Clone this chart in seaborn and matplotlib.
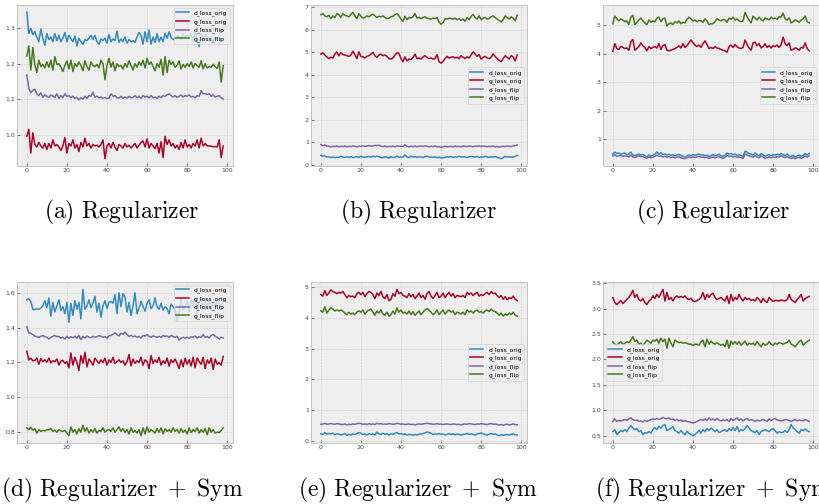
import numpy as np
import pandas as pd
import matplotlib
matplotlib.use("Agg")
import matplotlib.pyplot as plt
import seaborn as sns

# series names and colours (bmh cycle)
names = ["d_loss_orig", "g_loss_orig", "d_loss_flip", "g_loss_flip"]
colors = ["#348ABD", "#A60628", "#7A68A6", "#467821"]

# ---- (a) Regularizer ----
a_d_orig = [1.345, 1.285, 1.300, 1.282, 1.290, 1.275, 1.262, 1.298, 1.272, 1.252,
            1.285, 1.268, 1.275, 1.262, 1.285, 1.265, 1.280, 1.262, 1.272, 1.288,
            1.262, 1.280, 1.270, 1.262, 1.278, 1.250, 1.272, 1.262, 1.255, 1.268,
            1.265, 1.272, 1.280, 1.268, 1.280, 1.262, 1.255, 1.270, 1.265, 1.272,
            1.258, 1.282, 1.262, 1.270, 1.265, 1.292, 1.260, 1.270, 1.262, 1.275,
            1.258, 1.268, 1.262, 1.265, 1.260, 1.275, 1.288, 1.280, 1.255, 1.290,
            1.262, 1.295, 1.255, 1.275, 1.260, 1.285, 1.262, 1.275, 1.262, 1.285,
            1.272, 1.290, 1.275, 1.268, 1.272, 1.280, 1.275, 1.268, 1.285, 1.272,
            1.280, 1.275, 1.285, 1.262, 1.290, 1.268, 1.248, 1.285, 1.272, 1.282,
            1.275, 1.270, 1.268, 1.262, 1.275, 1.268, 1.272, 1.265, 1.268]
a_g_orig = [0.995, 1.015, 0.948, 1.005, 0.972, 0.965, 0.978, 0.968, 0.962, 0.975,
            0.958, 0.975, 0.962, 0.985, 0.968, 0.972, 0.965, 0.955, 0.968, 0.992,
            0.948, 0.975, 0.968, 0.985, 0.962, 0.972, 0.952, 0.978, 0.965, 0.990,
            0.968, 0.975, 0.962, 0.972, 0.968, 0.970, 0.965, 0.972, 0.985, 0.932,
            0.968, 0.975, 0.962, 0.978, 0.965, 0.955, 0.972, 0.968, 0.962, 0.975,
            0.965, 0.970, 0.962, 0.968, 0.975, 0.962, 0.970, 0.978, 0.982, 0.965,
            0.988, 0.962, 0.975, 0.968, 0.960, 0.975, 0.948, 0.980, 0.935, 0.995,
            0.972, 0.985, 0.968, 0.975, 0.962, 0.970, 0.958, 0.978, 0.962, 0.985,
            0.965, 0.972, 0.962, 0.975, 0.968, 0.985, 0.962, 0.990, 0.968, 0.975,
            0.968, 0.968, 0.967, 0.966, 0.966, 0.965, 0.985, 0.935, 0.968]
a_d_flip = [1.168, 1.130, 1.118, 1.125, 1.128, 1.115, 1.110, 1.118, 1.105, 1.112,
            1.108, 1.105, 1.112, 1.108, 1.105, 1.115, 1.102, 1.110, 1.105, 1.115,
            1.108, 1.110, 1.105, 1.108, 1.102, 1.105, 1.098, 1.104, 1.100, 1.108,
            1.102, 1.110, 1.108, 1.120, 1.105, 1.108, 1.104, 1.106, 1.103, 1.104,
            1.102, 1.103, 1.115, 1.108, 1.110, 1.104, 1.103, 1.108, 1.102, 1.106,
            1.103, 1.108, 1.104, 1.105, 1.110, 1.104, 1.108, 1.102, 1.110, 1.106,
            1.108, 1.104, 1.110, 1.104, 1.106, 1.102, 1.108, 1.104, 1.110, 1.108,
            1.112, 1.115, 1.110, 1.106, 1.110, 1.105, 1.108, 1.112, 1.106, 1.110,
            1.108, 1.112, 1.106, 1.108, 1.104, 1.110, 1.108, 1.124, 1.115, 1.116,
            1.113, 1.116, 1.108, 1.112, 1.106, 1.108, 1.110, 1.104, 1.100]
a_g_flip = [1.222, 1.250, 1.182, 1.246, 1.198, 1.175, 1.210, 1.192, 1.198, 1.188,
            1.205, 1.190, 1.210, 1.182, 1.220, 1.198, 1.200, 1.190, 1.178, 1.195,
            1.208, 1.185, 1.210, 1.178, 1.200, 1.192, 1.205, 1.195, 1.180, 1.208,
            1.192, 1.182, 1.205, 1.195, 1.192, 1.198, 1.188, 1.210, 1.200, 1.155,
            1.195, 1.215, 1.190, 1.205, 1.180, 1.200, 1.192, 1.195, 1.185, 1.200,
            1.190, 1.208, 1.195, 1.182, 1.200, 1.190, 1.205, 1.195, 1.210, 1.188,
            1.215, 1.198, 1.205, 1.192, 1.180, 1.200, 1.190, 1.212, 1.168, 1.220,
            1.175, 1.210, 1.198, 1.205, 1.190, 1.195, 1.208, 1.185, 1.198, 1.190,
            1.200, 1.192, 1.205, 1.188, 1.200, 1.195, 1.190, 1.208, 1.185, 1.200,
            1.188, 1.192, 1.190, 1.198, 1.192, 1.186, 1.205, 1.148, 1.195]

# ---- (b) Regularizer ----
b_d_orig = [0.42, 0.38, 0.40, 0.34, 0.35, 0.33, 0.34, 0.32, 0.34, 0.33,
            0.38, 0.34, 0.33, 0.35, 0.33, 0.36, 0.32, 0.34, 0.36, 0.33,
            0.38, 0.34, 0.33, 0.35, 0.37, 0.34, 0.38, 0.35, 0.38, 0.36,
            0.33, 0.31, 0.36, 0.33, 0.30, 0.36, 0.32, 0.34, 0.38, 0.33,
            0.35, 0.34, 0.44, 0.35, 0.32, 0.38, 0.34, 0.36, 0.33, 0.35,
            0.34, 0.33, 0.36, 0.38, 0.35, 0.34, 0.33, 0.35, 0.32, 0.34,
            0.30, 0.31, 0.33, 0.35, 0.34, 0.36, 0.33, 0.35, 0.34, 0.38,
            0.34, 0.36, 0.34, 0.33, 0.35, 0.37, 0.35, 0.34, 0.36, 0.33,
            0.35, 0.34, 0.37, 0.35, 0.33, 0.35, 0.34, 0.36, 0.33, 0.30,
            0.27, 0.31, 0.38, 0.34, 0.36, 0.33, 0.35, 0.37, 0.42]
b_g_orig = [4.92, 4.98, 4.88, 4.80, 4.72, 4.78, 4.75, 4.92, 5.02, 4.85,
            4.98, 4.90, 4.88, 4.85, 4.82, 4.88, 5.05, 4.90, 4.72, 5.02,
            4.82, 4.80, 4.75, 4.82, 4.85, 4.92, 5.00, 4.85, 4.78, 4.88,
            4.92, 4.85, 4.88, 4.82, 4.72, 4.70, 4.75, 4.88, 4.98, 4.95,
            4.72, 4.58, 4.80, 4.62, 4.70, 4.68, 4.78, 4.92, 4.72, 4.75,
            4.70, 4.80, 4.85, 4.78, 4.72, 4.75, 4.70, 4.72, 4.90, 4.58,
            4.52, 4.60, 4.72, 4.82, 4.75, 4.78, 4.80, 4.75, 4.78, 4.72,
            4.85, 4.78, 4.72, 4.80, 4.75, 4.88, 5.02, 4.92, 4.82, 4.90,
            4.70, 4.78, 4.82, 4.75, 4.72, 4.78, 4.92, 4.82, 4.72, 4.65,
            4.58, 4.72, 4.85, 4.78, 4.70, 4.85, 4.80, 4.62, 4.88]
b_d_flip = [0.90, 0.85, 0.88, 0.83, 0.82, 0.80, 0.82, 0.81, 0.83, 0.80,
            0.82, 0.81, 0.83, 0.80, 0.82, 0.81, 0.83, 0.82, 0.80, 0.83,
            0.82, 0.84, 0.82, 0.83, 0.85, 0.83, 0.84, 0.86, 0.85, 0.87,
            0.82, 0.81, 0.83, 0.80, 0.82, 0.81, 0.83, 0.80, 0.84, 0.82,
            0.83, 0.81, 0.89, 0.82, 0.80, 0.82, 0.81, 0.83, 0.80, 0.82,
            0.83, 0.81, 0.84, 0.82, 0.80, 0.82, 0.81, 0.83, 0.80, 0.81,
            0.78, 0.80, 0.82, 0.80, 0.81, 0.82, 0.80, 0.83, 0.81, 0.82,
            0.80, 0.83, 0.82, 0.81, 0.83, 0.82, 0.80, 0.83, 0.82, 0.84,
            0.81, 0.83, 0.82, 0.80, 0.82, 0.81, 0.83, 0.80, 0.82, 0.78,
            0.80, 0.82, 0.81, 0.83, 0.82, 0.81, 0.84, 0.85, 0.88]
b_g_flip = [6.68, 6.72, 6.62, 6.58, 6.65, 6.50, 6.62, 6.55, 6.72, 6.68,
            6.55, 6.72, 6.65, 6.62, 6.58, 6.68, 6.78, 6.62, 6.50, 6.72,
            6.60, 6.52, 6.55, 6.62, 6.58, 6.65, 6.70, 6.62, 6.55, 6.60,
            6.58, 6.62, 6.55, 6.50, 6.52, 6.58, 6.60, 6.68, 6.72, 6.62,
            6.48, 6.38, 6.60, 6.45, 6.55, 6.52, 6.58, 6.72, 6.52, 6.55,
            6.50, 6.55, 6.58, 6.52, 6.50, 6.48, 6.52, 6.50, 6.55, 6.35,
            6.25, 6.32, 6.50, 6.48, 6.52, 6.50, 6.48, 6.52, 6.45, 6.50,
            6.42, 6.48, 6.38, 6.55, 6.45, 6.60, 6.68, 6.55, 6.48, 6.62,
            6.45, 6.52, 6.55, 6.48, 6.50, 6.58, 6.62, 6.55, 6.48, 6.42,
            6.35, 6.45, 6.62, 6.55, 6.48, 6.58, 6.52, 6.40, 6.65]

# ---- (c) Regularizer ----
c_d_orig = [0.48, 0.55, 0.50, 0.52, 0.48, 0.50, 0.52, 0.46, 0.48, 0.55,
            0.45, 0.42, 0.46, 0.48, 0.45, 0.47, 0.43, 0.38, 0.45, 0.40,
            0.44, 0.48, 0.56, 0.48, 0.52, 0.46, 0.48, 0.45, 0.47, 0.44,
            0.46, 0.42, 0.45, 0.47, 0.43, 0.40, 0.38, 0.42, 0.45, 0.43,
            0.46, 0.44, 0.46, 0.48, 0.45, 0.46, 0.42, 0.44, 0.40, 0.43,
            0.46, 0.42, 0.44, 0.48, 0.42, 0.40, 0.44, 0.52, 0.48, 0.50,
            0.46, 0.48, 0.44, 0.45, 0.43, 0.40, 0.58, 0.55, 0.50, 0.48,
            0.45, 0.52, 0.46, 0.42, 0.50, 0.45, 0.40, 0.44, 0.46, 0.42,
            0.46, 0.44, 0.48, 0.45, 0.50, 0.46, 0.43, 0.48, 0.42, 0.40,
            0.44, 0.38, 0.42, 0.45, 0.40, 0.43, 0.50, 0.45, 0.50]
c_g_orig = [4.08, 4.35, 4.18, 4.15, 4.25, 4.22, 4.18, 4.20, 4.12, 4.42,
            4.50, 4.12, 4.18, 4.25, 4.38, 4.28, 4.22, 4.10, 4.25, 4.18,
            4.22, 4.25, 4.20, 4.35, 4.15, 4.28, 4.32, 4.12, 4.10, 4.12,
            4.15, 4.18, 4.22, 4.28, 4.20, 4.35, 4.22, 4.28, 4.38, 4.48,
            4.38, 4.30, 4.25, 4.30, 4.22, 4.35, 4.45, 4.32, 4.18, 4.22,
            4.18, 4.25, 4.20, 4.18, 4.15, 4.12, 4.10, 4.05, 4.25, 4.30,
            4.22, 4.32, 4.25, 4.20, 4.18, 4.22, 4.48, 4.32, 4.20, 4.12,
            4.38, 4.40, 4.28, 4.35, 4.20, 4.25, 4.35, 4.22, 4.28, 4.20,
            4.28, 4.25, 4.30, 4.22, 4.32, 4.58, 4.35, 4.28, 4.38, 4.12,
            4.15, 4.20, 4.18, 4.12, 4.22, 4.20, 4.38, 4.18, 4.10]
c_d_flip = [0.42, 0.46, 0.40, 0.42, 0.43, 0.40, 0.42, 0.41, 0.38, 0.45,
            0.38, 0.36, 0.40, 0.42, 0.39, 0.40, 0.36, 0.33, 0.38, 0.35,
            0.38, 0.40, 0.45, 0.40, 0.42, 0.38, 0.40, 0.37, 0.39, 0.36,
            0.38, 0.35, 0.37, 0.39, 0.35, 0.33, 0.32, 0.35, 0.38, 0.36,
            0.38, 0.36, 0.38, 0.40, 0.37, 0.38, 0.35, 0.37, 0.33, 0.36,
            0.38, 0.35, 0.37, 0.40, 0.35, 0.33, 0.37, 0.43, 0.40, 0.41,
            0.38, 0.40, 0.37, 0.38, 0.36, 0.33, 0.48, 0.45, 0.42, 0.40,
            0.37, 0.43, 0.38, 0.35, 0.42, 0.37, 0.33, 0.36, 0.38, 0.35,
            0.38, 0.36, 0.40, 0.37, 0.42, 0.38, 0.36, 0.40, 0.35, 0.33,
            0.36, 0.32, 0.35, 0.37, 0.33, 0.36, 0.42, 0.37, 0.42]
c_g_flip = [5.05, 5.32, 5.22, 5.15, 5.22, 5.18, 5.12, 5.15, 5.02, 5.28,
            5.35, 5.02, 5.10, 5.18, 5.25, 5.15, 5.08, 5.02, 5.18, 5.10,
            5.15, 5.12, 5.25, 5.28, 5.12, 5.22, 5.25, 4.98, 5.05, 5.08,
            5.02, 5.12, 5.08, 5.15, 5.05, 5.10, 5.08, 5.20, 5.28, 5.22,
            5.15, 5.18, 5.12, 5.16, 5.15, 5.10, 5.22, 5.15, 5.02, 5.05,
            5.05, 5.12, 5.22, 5.18, 5.15, 5.20, 5.18, 5.10, 5.25, 5.20,
            5.28, 5.18, 5.22, 5.15, 5.12, 5.15, 5.45, 5.30, 5.18, 5.08,
            5.32, 5.25, 5.18, 5.28, 5.20, 5.15, 5.25, 5.22, 5.18, 5.28,
            5.22, 5.25, 5.20, 5.30, 5.28, 5.42, 5.22, 5.18, 5.25, 5.08,
            5.12, 5.18, 5.15, 5.10, 5.18, 5.22, 5.32, 5.12, 5.08]

# ---- (d) Regularizer + Sym ----
d_d_orig = [1.560, 1.565, 1.550, 1.505, 1.505, 1.508, 1.505, 1.512, 1.525, 1.555,
            1.515, 1.570, 1.465, 1.545, 1.490, 1.525, 1.560, 1.500, 1.520, 1.480,
            1.545, 1.430, 1.540, 1.470, 1.555, 1.505, 1.545, 1.450, 1.620, 1.505,
            1.525, 1.560, 1.515, 1.540, 1.580, 1.490, 1.540, 1.460, 1.525, 1.555,
            1.510, 1.545, 1.550, 1.540, 1.590, 1.480, 1.600, 1.520, 1.595, 1.575,
            1.490, 1.545, 1.470, 1.525, 1.600, 1.480, 1.510, 1.550, 1.520, 1.495,
            1.540, 1.560, 1.510, 1.525, 1.570, 1.520, 1.505, 1.540, 1.500, 1.520,
            1.510, 1.480, 1.535, 1.520, 1.505, 1.440, 1.480, 1.565, 1.500, 1.520,
            1.550, 1.490, 1.560, 1.520, 1.575, 1.485, 1.540, 1.570, 1.500, 1.545,
            1.520, 1.560, 1.505, 1.545, 1.515, 1.560, 1.540, 1.520, 1.550]
d_g_orig = [1.265, 1.215, 1.225, 1.210, 1.212, 1.225, 1.190, 1.222, 1.205, 1.215,
            1.202, 1.225, 1.198, 1.210, 1.205, 1.220, 1.185, 1.208, 1.212, 1.195,
            1.205, 1.170, 1.255, 1.185, 1.230, 1.200, 1.155, 1.240, 1.195, 1.258,
            1.175, 1.220, 1.205, 1.185, 1.225, 1.210, 1.195, 1.215, 1.200, 1.225,
            1.185, 1.215, 1.200, 1.230, 1.195, 1.205, 1.215, 1.200, 1.210, 1.185,
            1.205, 1.245, 1.180, 1.220, 1.195, 1.210, 1.200, 1.230, 1.185, 1.215,
            1.205, 1.165, 1.240, 1.195, 1.215, 1.200, 1.230, 1.185, 1.210, 1.195,
            1.225, 1.180, 1.215, 1.200, 1.220, 1.195, 1.165, 1.215, 1.175, 1.225,
            1.190, 1.215, 1.180, 1.230, 1.170, 1.225, 1.205, 1.190, 1.230, 1.165,
            1.215, 1.195, 1.225, 1.160, 1.220, 1.190, 1.200, 1.185, 1.235]
d_d_flip = [1.405, 1.370, 1.368, 1.360, 1.352, 1.348, 1.345, 1.350, 1.355, 1.348,
            1.345, 1.335, 1.345, 1.350, 1.355, 1.348, 1.350, 1.340, 1.345, 1.335,
            1.350, 1.338, 1.348, 1.342, 1.350, 1.340, 1.355, 1.332, 1.350, 1.340,
            1.352, 1.345, 1.342, 1.350, 1.345, 1.348, 1.355, 1.350, 1.345, 1.348,
            1.340, 1.352, 1.355, 1.362, 1.370, 1.360, 1.352, 1.368, 1.362, 1.375,
            1.360, 1.350, 1.355, 1.348, 1.352, 1.345, 1.350, 1.340, 1.355, 1.352,
            1.360, 1.350, 1.345, 1.352, 1.348, 1.345, 1.350, 1.345, 1.355, 1.350,
            1.352, 1.345, 1.355, 1.350, 1.345, 1.350, 1.330, 1.338, 1.345, 1.340,
            1.345, 1.338, 1.348, 1.345, 1.352, 1.340, 1.348, 1.345, 1.360, 1.345,
            1.350, 1.340, 1.355, 1.360, 1.350, 1.345, 1.335, 1.345, 1.340]
d_g_flip = [0.825, 0.815, 0.828, 0.812, 0.820, 0.795, 0.815, 0.805, 0.810, 0.808,
            0.812, 0.815, 0.820, 0.805, 0.812, 0.800, 0.815, 0.808, 0.805, 0.810,
            0.795, 0.780, 0.830, 0.800, 0.815, 0.790, 0.820, 0.800, 0.840, 0.805,
            0.825, 0.795, 0.815, 0.800, 0.820, 0.795, 0.810, 0.805, 0.825, 0.800,
            0.812, 0.815, 0.805, 0.825, 0.800, 0.815, 0.830, 0.805, 0.820, 0.800,
            0.815, 0.790, 0.825, 0.800, 0.810, 0.795, 0.815, 0.780, 0.825, 0.790,
            0.830, 0.800, 0.815, 0.805, 0.795, 0.820, 0.800, 0.825, 0.790, 0.820,
            0.805, 0.815, 0.800, 0.825, 0.805, 0.815, 0.795, 0.820, 0.800, 0.812,
            0.790, 0.825, 0.798, 0.815, 0.805, 0.825, 0.795, 0.815, 0.800, 0.820,
            0.785, 0.825, 0.800, 0.815, 0.795, 0.800, 0.798, 0.810, 0.825]

# ---- (e) Regularizer + Sym ----
e_d_orig = [0.24, 0.22, 0.28, 0.23, 0.25, 0.24, 0.26, 0.22, 0.24, 0.23,
            0.20, 0.22, 0.24, 0.19, 0.22, 0.20, 0.24, 0.22, 0.25, 0.28,
            0.26, 0.22, 0.24, 0.20, 0.25, 0.22, 0.24, 0.20, 0.30, 0.24,
            0.22, 0.26, 0.22, 0.25, 0.20, 0.24, 0.22, 0.26, 0.28, 0.23,
            0.25, 0.22, 0.24, 0.20, 0.22, 0.21, 0.20, 0.22, 0.20, 0.23,
            0.24, 0.25, 0.27, 0.30, 0.28, 0.26, 0.22, 0.24, 0.23, 0.25,
            0.22, 0.24, 0.20, 0.22, 0.25, 0.22, 0.24, 0.21, 0.23, 0.22,
            0.20, 0.22, 0.23, 0.25, 0.22, 0.24, 0.22, 0.20, 0.24, 0.25,
            0.27, 0.24, 0.22, 0.20, 0.23, 0.25, 0.22, 0.24, 0.20, 0.18,
            0.22, 0.19, 0.21, 0.22, 0.20, 0.22, 0.24, 0.21, 0.20]
e_g_orig = [4.75, 4.70, 4.88, 4.72, 4.80, 4.90, 4.85, 4.82, 4.78, 4.82,
            4.80, 4.85, 4.75, 4.65, 4.72, 4.68, 4.70, 4.65, 4.78, 4.82,
            4.75, 4.82, 4.68, 4.78, 4.85, 4.82, 4.75, 4.62, 4.80, 4.72,
            4.85, 4.68, 4.62, 4.75, 4.55, 4.60, 4.78, 4.70, 4.92, 4.78,
            4.82, 4.72, 4.70, 4.65, 4.78, 4.68, 4.75, 4.62, 4.70, 4.80,
            4.65, 4.72, 4.60, 4.78, 4.85, 4.70, 4.62, 4.72, 4.82, 4.65,
            4.70, 4.80, 4.65, 4.75, 4.82, 4.70, 4.78, 4.65, 4.72, 4.70,
            4.68, 4.72, 4.65, 4.82, 4.75, 4.80, 4.72, 4.78, 4.82, 4.70,
            4.75, 4.72, 4.78, 4.82, 4.75, 4.85, 4.78, 4.80, 4.72, 4.65,
            4.72, 4.60, 4.68, 4.58, 4.65, 4.62, 4.70, 4.60, 4.55]
e_d_flip = [0.55, 0.56, 0.58, 0.55, 0.56, 0.57, 0.56, 0.55, 0.57, 0.56,
            0.55, 0.54, 0.56, 0.53, 0.55, 0.54, 0.56, 0.55, 0.57, 0.58,
            0.57, 0.55, 0.56, 0.54, 0.57, 0.55, 0.56, 0.54, 0.58, 0.56,
            0.57, 0.55, 0.56, 0.55, 0.57, 0.56, 0.55, 0.56, 0.58, 0.57,
            0.55, 0.56, 0.54, 0.55, 0.56, 0.54, 0.55, 0.53, 0.55, 0.56,
            0.55, 0.56, 0.57, 0.58, 0.57, 0.56, 0.55, 0.56, 0.57, 0.55,
            0.56, 0.54, 0.55, 0.56, 0.55, 0.54, 0.56, 0.55, 0.54, 0.55,
            0.53, 0.55, 0.56, 0.55, 0.57, 0.56, 0.55, 0.54, 0.56, 0.55,
            0.57, 0.56, 0.55, 0.54, 0.56, 0.57, 0.55, 0.56, 0.54, 0.53,
            0.54, 0.52, 0.54, 0.55, 0.53, 0.54, 0.56, 0.54, 0.53]
e_g_flip = [4.22, 4.18, 4.35, 4.15, 4.25, 4.32, 4.28, 4.22, 4.25, 4.22,
            4.25, 4.22, 4.15, 4.10, 4.18, 4.12, 4.15, 4.10, 4.18, 4.22,
            4.18, 4.25, 4.12, 4.20, 4.25, 4.28, 4.18, 4.08, 4.22, 4.15,
            4.25, 4.12, 4.08, 4.18, 4.05, 4.10, 4.22, 4.12, 4.32, 4.18,
            4.25, 4.15, 4.18, 4.12, 4.22, 4.10, 4.20, 4.08, 4.15, 4.22,
            4.10, 4.18, 4.25, 4.30, 4.25, 4.18, 4.10, 4.15, 4.25, 4.10,
            4.18, 4.25, 4.12, 4.20, 4.25, 4.18, 4.22, 4.10, 4.18, 4.15,
            4.12, 4.18, 4.10, 4.25, 4.18, 4.22, 4.15, 4.22, 4.25, 4.18,
            4.20, 4.15, 4.22, 4.25, 4.20, 4.28, 4.22, 4.20, 4.15, 4.08,
            4.15, 4.05, 4.12, 4.08, 4.15, 4.10, 4.18, 4.08, 4.05]

# ---- (f) Regularizer + Sym ----
f_d_orig = [0.58, 0.62, 0.52, 0.56, 0.60, 0.58, 0.62, 0.58, 0.65, 0.70,
            0.65, 0.62, 0.64, 0.58, 0.60, 0.52, 0.56, 0.55, 0.58, 0.55,
            0.62, 0.66, 0.62, 0.68, 0.65, 0.70, 0.72, 0.60, 0.62, 0.65,
            0.68, 0.60, 0.58, 0.55, 0.60, 0.55, 0.52, 0.58, 0.55, 0.52,
            0.50, 0.52, 0.56, 0.60, 0.55, 0.62, 0.58, 0.64, 0.60, 0.65,
            0.62, 0.58, 0.62, 0.56, 0.58, 0.60, 0.62, 0.58, 0.64, 0.60,
            0.66, 0.60, 0.68, 0.58, 0.62, 0.60, 0.64, 0.70, 0.65, 0.60,
            0.58, 0.56, 0.60, 0.52, 0.58, 0.60, 0.62, 0.60, 0.58, 0.62,
            0.64, 0.60, 0.55, 0.58, 0.56, 0.57, 0.60, 0.56, 0.62, 0.72,
            0.65, 0.62, 0.58, 0.55, 0.62, 0.60, 0.63, 0.60, 0.58]
f_g_orig = [3.22, 3.12, 3.08, 3.12, 3.16, 3.10, 3.14, 3.18, 3.22, 3.28,
            3.36, 3.22, 3.28, 3.18, 3.15, 3.20, 3.12, 3.08, 3.15, 3.18,
            3.25, 3.20, 3.28, 3.22, 3.30, 3.38, 3.15, 3.32, 3.18, 3.22,
            3.15, 3.22, 3.25, 3.22, 3.24, 3.22, 3.25, 3.20, 3.18, 3.20,
            3.15, 3.14, 3.16, 3.18, 3.22, 3.32, 3.18, 3.28, 3.22, 3.28,
            3.30, 3.22, 3.18, 3.20, 3.22, 3.18, 3.15, 3.25, 3.10, 3.28,
            3.15, 3.22, 3.18, 3.28, 3.20, 3.15, 3.22, 3.18, 3.20, 3.16,
            3.18, 3.15, 3.22, 3.18, 3.12, 3.20, 3.15, 3.12, 3.22, 3.18,
            3.14, 3.16, 3.16, 3.15, 3.17, 3.16, 3.15, 3.18, 3.28, 3.18,
            3.15, 3.12, 3.18, 3.22, 3.28, 3.15, 3.20, 3.22, 3.24]
f_d_flip = [0.78, 0.83, 0.78, 0.80, 0.79, 0.80, 0.82, 0.80, 0.83, 0.85,
            0.82, 0.80, 0.81, 0.78, 0.79, 0.77, 0.80, 0.78, 0.80, 0.82,
            0.83, 0.82, 0.84, 0.82, 0.83, 0.86, 0.84, 0.83, 0.85, 0.82,
            0.83, 0.80, 0.82, 0.79, 0.81, 0.78, 0.80, 0.78, 0.77, 0.76,
            0.75, 0.76, 0.78, 0.80, 0.82, 0.80, 0.83, 0.80, 0.85, 0.81,
            0.83, 0.80, 0.84, 0.81, 0.79, 0.81, 0.80, 0.82, 0.78, 0.84,
            0.80, 0.82, 0.85, 0.80, 0.83, 0.79, 0.82, 0.84, 0.80, 0.82,
            0.80, 0.78, 0.81, 0.79, 0.80, 0.82, 0.80, 0.78, 0.83, 0.80,
            0.82, 0.84, 0.81, 0.80, 0.79, 0.80, 0.82, 0.81, 0.80, 0.78,
            0.80, 0.82, 0.79, 0.81, 0.80, 0.79, 0.82, 0.80, 0.78]
f_g_flip = [2.35, 2.30, 2.28, 2.32, 2.35, 2.30, 2.32, 2.35, 2.33, 2.38,
            2.45, 2.35, 2.38, 2.30, 2.32, 2.28, 2.32, 2.38, 2.35, 2.32,
            2.38, 2.36, 2.40, 2.32, 2.42, 2.35, 2.40, 2.22, 2.42, 2.32,
            2.25, 2.38, 2.35, 2.33, 2.34, 2.32, 2.33, 2.32, 2.30, 2.30,
            2.28, 2.30, 2.30, 2.28, 2.35, 2.38, 2.25, 2.40, 2.30, 2.36,
            2.32, 2.30, 2.33, 2.30, 2.28, 2.30, 2.25, 2.38, 2.22, 2.36,
            2.30, 2.35, 2.30, 2.35, 2.28, 2.32, 2.36, 2.28, 2.32, 2.30,
            2.32, 2.28, 2.35, 2.30, 2.25, 2.32, 2.28, 2.30, 2.35, 2.30,
            2.28, 2.32, 2.30, 2.33, 2.32, 2.30, 2.32, 2.33, 2.38, 2.30,
            2.28, 2.25, 2.30, 2.35, 2.38, 2.28, 2.32, 2.35, 2.38]

captions = [r"$\mathrm{(a)\ Regularizer}$", r"$\mathrm{(b)\ Regularizer}$",
            r"$\mathrm{(c)\ Regularizer}$",
            r"$\mathrm{(d)\ Regularizer\ +\ Sym}$",
            r"$\mathrm{(e)\ Regularizer\ +\ Sym}$",
            r"$\mathrm{(f)\ Regularizer\ +\ Sym}$"]

panels = [
    (a_d_orig, a_g_orig, a_d_flip, a_g_flip),
    (b_d_orig, b_g_orig, b_d_flip, b_g_flip),
    (c_d_orig, c_g_orig, c_d_flip, c_g_flip),
    (d_d_orig, d_g_orig, d_d_flip, d_g_flip),
    (e_d_orig, e_g_orig, e_d_flip, e_g_flip),
    (f_d_orig, f_g_orig, f_d_flip, f_g_flip),
]
legend_locs = ["upper right", "center right", "center right",
               "upper right", "center right", "center left"]

plt.style.use("bmh")
plt.rcParams["mathtext.fontset"] = "cm"

W, H = 819, 504
fig = plt.figure(figsize=(W / 100, H / 100), dpi=100)
fig.patch.set_facecolor("white")

# axes boxes in pixels: left, top, right, bottom
lefts = [17, 311, 603]
rows = [(5, 166), (282, 443)]
cap_x = [122, 418, 713]
cap_y = [212, 490]

for i, series in enumerate(panels):
    r, c = divmod(i, 3)
    top, bot = rows[r]
    left = lefts[c]
    ax = fig.add_axes([left / W, 1 - bot / H, 216 / W, (bot - top) / H])
    for name, col, vals in zip(names, colors, series):
        df = pd.DataFrame({"step": np.arange(len(vals)), "loss": vals})
        sns.lineplot(data=df, x="step", y="loss", color=col, lw=1.1,
                     label=name, ax=ax)
    ax.set_xlabel("")
    ax.set_ylabel("")
    ax.set_xticks([0, 20, 40, 60, 80, 100])
    ax.tick_params(labelsize=4.5, length=2, width=0.5, pad=1.5,
                   colors="#444444")
    ax.grid(True, linestyle="--", linewidth=0.4, color="#cfcfcf")
    for sp in ax.spines.values():
        sp.set_linewidth(0.6)
    ax.legend(loc=legend_locs[i], fontsize=4.3, handlelength=2.2,
              labelspacing=0.45, borderpad=0.4, framealpha=0.8)
    fig.text(cap_x[c] / W, 1 - cap_y[r] / H, captions[i], ha="center",
             va="center", fontsize=17)

fig.savefig("out.png", dpi=100, facecolor="white")
